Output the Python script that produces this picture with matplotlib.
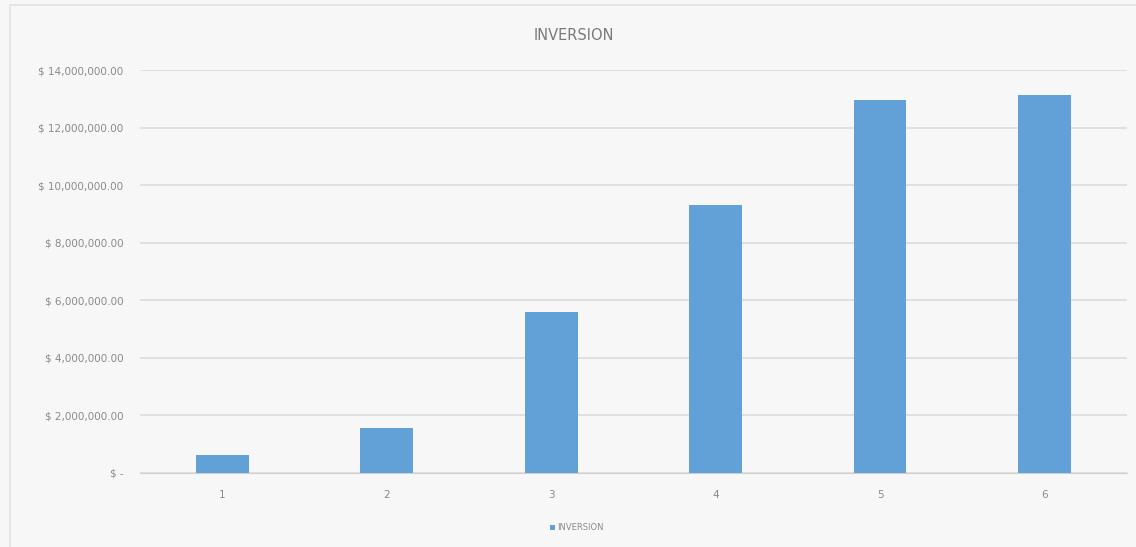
#!/usr/bin/env python3
"""Bar chart INVERSION recreated from an Excel screenshot."""
import matplotlib
matplotlib.use("Agg")
import matplotlib.pyplot as plt
from matplotlib.patches import Rectangle
from matplotlib.ticker import FuncFormatter

periods = ["1", "2", "3", "4", "5", "6"]
inversion = [630000, 1570000, 5580000, 9320000, 12950000, 13120000]
y_ticks = [0, 2e6, 4e6, 6e6, 8e6, 10e6, 12e6, 14e6]

BAR = "#62a0d8"
TXT = "#8a8a8a"


def money(v, _pos=None):
    if v == 0:
        return "$ -"
    return f"$ {v:,.2f}"


fig = plt.figure(figsize=(11.36, 5.47), dpi=100)
fig.patch.set_facecolor("#f7f7f7")
# faint chart frame, as in the Excel object
fig.patches.append(Rectangle((0.009, -0.02), 1.1, 1.01, transform=fig.transFigure,
                             fill=False, edgecolor="#e2e2e2", lw=1.2))
ax = fig.add_axes([0.1232, 0.1353, 0.8688, 0.7367])
ax.set_facecolor("#f7f7f7")

x = range(len(periods))
ax.bar(x, inversion, width=0.32, color=BAR, label="INVERSION", zorder=3)

ax.set_xlim(-0.5, len(periods) - 0.5)
ax.set_ylim(0, 14e6)
ax.set_yticks(y_ticks)
ax.yaxis.set_major_formatter(FuncFormatter(money))
ax.set_xticks(list(x))
ax.set_xticklabels(periods)
ax.grid(axis="y", color="#dcdcdc", lw=1.2, zorder=0)
for s in ax.spines.values():
    s.set_visible(False)
ax.spines["bottom"].set_visible(True)
ax.spines["bottom"].set_color("#d0d0d0")
ax.tick_params(axis="both", length=0, colors=TXT, labelsize=7.5)
ax.tick_params(axis="y", pad=12)
ax.tick_params(axis="x", pad=12)

fig.text(0.505, 0.935, "INVERSION", ha="center", va="center", fontsize=10.5, color="#7a7a7a")
fig.legend(loc="center", bbox_to_anchor=(0.508, 0.035), frameon=False, fontsize=6,
           labelcolor=TXT, handlelength=0.6, handleheight=0.6, handletextpad=0.3)

fig.savefig("out.png", dpi=100, facecolor=fig.get_facecolor())
plt.close(fig)
